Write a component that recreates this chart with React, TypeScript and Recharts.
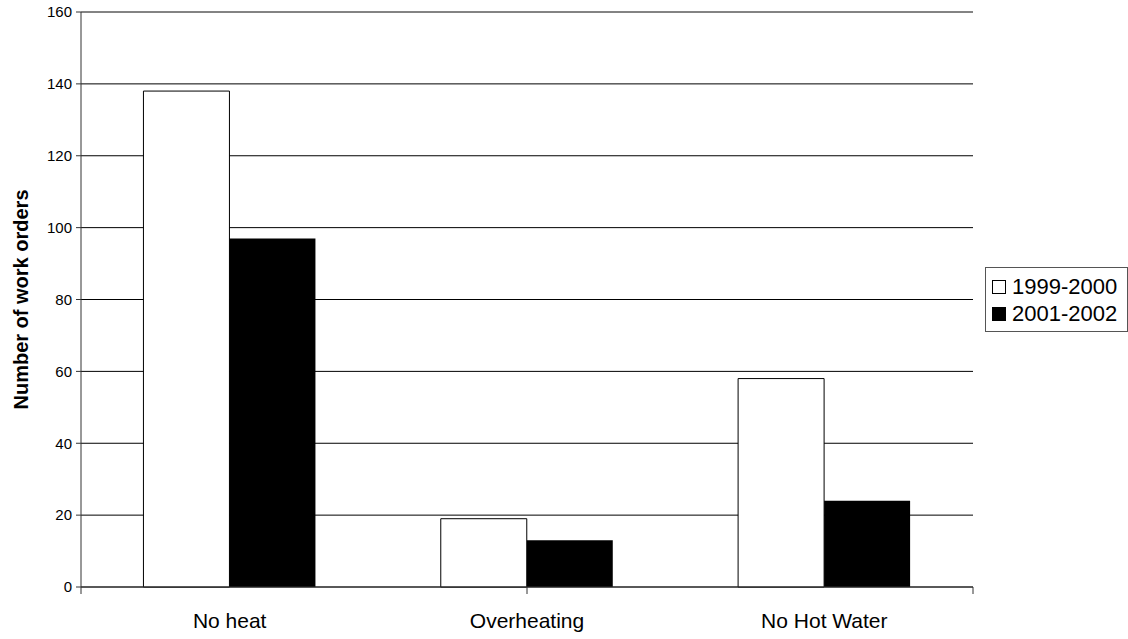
import { Bar, BarChart, CartesianGrid, Label, Legend, ReferenceLine, XAxis, YAxis } from "recharts";

const categories = ["No heat", "Overheating", "No Hot Water"];
const orders19992000 = [138, 19, 58];
const orders20012002 = [97, 13, 24];
const yTicks = [0, 20, 40, 60, 80, 100, 120, 140, 160];
const edgeTicks = [0, 1, 2, 3];

const rows = categories.map((name, i) => ({
  name,
  a: orders19992000[i],
  b: orders20012002[i]
}));

const font = "'Liberation Sans', Arial, sans-serif";

function CategoryTick({ x, y, payload }: any) {
  return (
    <text x={x} y={y + 40} textAnchor="middle" fontSize={21} fontFamily={font} fill="#000">
      {payload.value}
    </text>
  );
}

function AxisTitle({ viewBox }: any) {
  const cx = viewBox.x + 21;
  const cy = viewBox.y + viewBox.height / 2;
  return (
    <text
      x={cx}
      y={cy}
      transform={`rotate(-90, ${cx}, ${cy})`}
      textAnchor="middle"
      dominantBaseline="central"
      fontSize={20}
      fontWeight="bold"
      fontFamily={font}
      fill="#000"
    >
      Number of work orders
    </text>
  );
}

function LegendBox({ payload }: any) {
  return (
    <div
      style={{
        border: "1px solid #555",
        background: "#fff",
        padding: "5px 0 4px 6px",
        fontFamily: font,
        fontSize: 22,
        lineHeight: "27px",
        width: 135
      }}
    >
      {(payload ?? []).map((item: any) => (
        <div key={item.value} style={{ display: "flex", alignItems: "center" }}>
          <span
            style={{
              display: "inline-block",
              width: 12,
              height: 12,
              border: "1px solid #000",
              background: item.color,
              marginRight: 6
            }}
          />
          <span>{item.value}</span>
        </div>
      ))}
    </div>
  );
}

export default function App() {
  return (
    <div style={{ position: "absolute", left: 0, top: 0, background: "#fff" }}>
      <BarChart
        width={1128}
        height={639}
        data={rows}
        margin={{ top: 12, right: 155, bottom: 0, left: 0 }}
        barCategoryGap="21%"
        barGap={0}
      >
        <CartesianGrid vertical={false} stroke="#000" xAxisId="names" />
        {/* tick marks between categories, sits right on the plot's bottom edge */}
        <XAxis
          xAxisId="axisEdges"
          type="number"
          domain={[0, 3]}
          ticks={edgeTicks}
          tickFormatter={() => ""}
          height={1}
          tickSize={7}
          stroke="#333"
        />
        {/* category names below it */}
        <XAxis
          xAxisId="names"
          dataKey="name"
          height={51}
          axisLine={false}
          tickLine={false}
          tickSize={0}
          tickMargin={0}
          tick={<CategoryTick />}
          interval={0}
        />
        <YAxis
          domain={[0, 160]}
          ticks={yTicks}
          width={81}
          tickSize={5}
          tickMargin={4}
          stroke="#333"
          tick={{ fill: "#000", fontSize: 15, fontFamily: font }}
        >
          <Label content={<AxisTitle />} />
        </YAxis>
        <YAxis yAxisId="right" orientation="right" width={0} tick={false} tickLine={false} stroke="#888" />
        <ReferenceLine y={160} stroke="#888" xAxisId="names" />
        <Legend
          content={<LegendBox />}
          layout="vertical"
          align="center"
          verticalAlign="middle"
          wrapperStyle={{ position: "absolute", left: 985, top: 267, width: 143 }}
        />
        <Bar xAxisId="names" dataKey="a" name="1999-2000" fill="#fff" stroke="#000" strokeWidth={1} isAnimationActive={false} />
        <Bar xAxisId="names" dataKey="b" name="2001-2002" fill="#000" isAnimationActive={false} />
      </BarChart>
    </div>
  );
}
